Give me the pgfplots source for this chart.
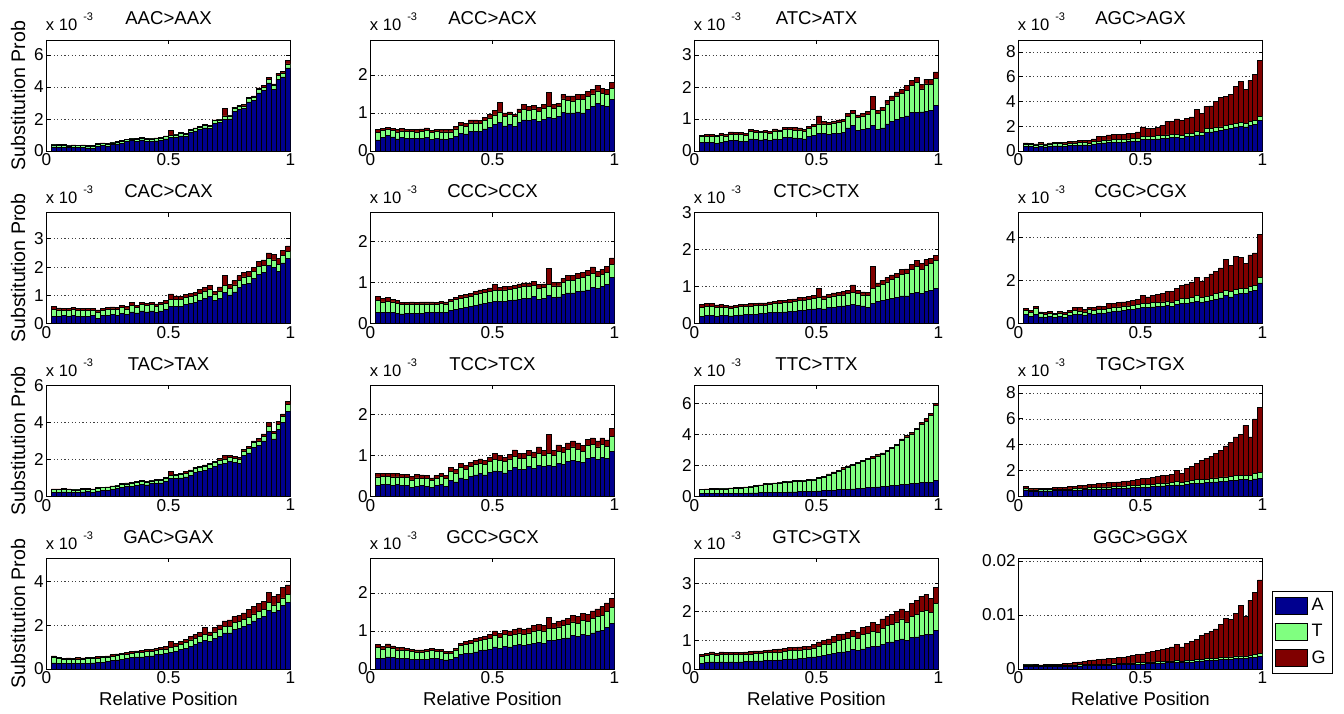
\documentclass[border=0pt]{standalone}
\usepackage{fontspec}
\setmainfont{Liberation Sans}
\usepackage{pgfplots}
\usepackage{pgfplotstable}
\pgfplotsset{compat=1.18}

\definecolor{cA}{RGB}{0,0,143}
\definecolor{cT}{RGB}{128,255,128}
\definecolor{cG}{RGB}{128,0,0}

% substitution probabilities (x 10^-3), columns A T G, 49 position bins
\pgfplotstableread[row sep=\\]{
A T G\\
0.26 0.12 0.04\\ 0.24 0.12 0.04\\ 0.24 0.12 0.04\\ 0.20 0.12 0.04\\ 0.22 0.12 0.04\\ 0.21 0.12 0.04\\ 0.22 0.12 0.04\\
0.19 0.12 0.04\\ 0.17 0.12 0.04\\ 0.29 0.12 0.04\\ 0.34 0.12 0.04\\ 0.29 0.12 0.04\\ 0.39 0.12 0.04\\ 0.44 0.12 0.04\\
0.49 0.12 0.04\\ 0.59 0.12 0.04\\ 0.64 0.12 0.04\\ 0.62 0.12 0.04\\ 0.69 0.12 0.04\\ 0.62 0.12 0.04\\ 0.61 0.15 0.04\\
0.63 0.15 0.04\\ 0.66 0.15 0.04\\ 0.76 0.15 0.04\\ 0.85 0.15 0.30\\ 0.86 0.15 0.04\\ 0.95 0.15 0.05\\ 0.90 0.15 0.05\\
1.15 0.15 0.05\\ 1.25 0.15 0.05\\ 1.35 0.15 0.05\\ 1.45 0.15 0.05\\ 1.40 0.15 0.05\\ 1.74 0.15 0.06\\ 1.79 0.15 0.06\\
2.00 0.20 0.45\\ 2.01 0.18 0.06\\ 2.50 0.18 0.07\\ 2.59 0.18 0.08\\ 2.64 0.18 0.08\\ 3.07 0.20 0.08\\ 3.15 0.20 0.10\\
3.63 0.22 0.10\\ 3.78 0.22 0.10\\ 4.26 0.22 0.12\\ 3.86 0.22 0.12\\ 4.48 0.25 0.12\\ 4.63 0.25 0.12\\ 5.20 0.25 0.20\\
}\tAAC
\pgfplotstableread[row sep=\\]{
A T G\\
0.29 0.19 0.09\\ 0.36 0.18 0.06\\ 0.40 0.17 0.06\\ 0.37 0.17 0.06\\ 0.32 0.18 0.06\\ 0.35 0.18 0.06\\ 0.33 0.18 0.06\\
0.34 0.17 0.06\\ 0.33 0.17 0.06\\ 0.34 0.18 0.06\\ 0.36 0.18 0.07\\ 0.30 0.18 0.06\\ 0.33 0.18 0.06\\ 0.32 0.18 0.06\\
0.31 0.19 0.06\\ 0.33 0.17 0.06\\ 0.38 0.20 0.07\\ 0.47 0.20 0.08\\ 0.45 0.20 0.07\\ 0.52 0.22 0.08\\ 0.52 0.22 0.08\\
0.51 0.22 0.08\\ 0.58 0.22 0.08\\ 0.62 0.25 0.10\\ 0.70 0.25 0.12\\ 0.75 0.28 0.25\\ 0.66 0.26 0.08\\ 0.70 0.26 0.07\\
0.65 0.25 0.07\\ 0.75 0.27 0.09\\ 0.82 0.28 0.12\\ 0.80 0.27 0.10\\ 0.83 0.28 0.10\\ 0.78 0.27 0.10\\ 0.84 0.28 0.10\\
0.88 0.30 0.37\\ 0.85 0.27 0.10\\ 0.90 0.28 0.08\\ 1.02 0.35 0.12\\ 1.00 0.33 0.12\\ 1.00 0.32 0.13\\ 1.03 0.33 0.13\\
1.00 0.35 0.13\\ 1.10 0.33 0.14\\ 1.18 0.32 0.12\\ 1.25 0.33 0.15\\ 1.20 0.32 0.13\\ 1.18 0.30 0.14\\ 1.35 0.30 0.15\\
}\tACC
\pgfplotstableread[row sep=\\]{
A T G\\
0.28 0.17 0.05\\ 0.28 0.18 0.06\\ 0.27 0.19 0.06\\ 0.25 0.20 0.05\\ 0.28 0.20 0.06\\ 0.29 0.18 0.05\\ 0.32 0.20 0.08\\
0.32 0.21 0.06\\ 0.30 0.21 0.06\\ 0.30 0.20 0.05\\ 0.38 0.24 0.06\\ 0.36 0.22 0.06\\ 0.35 0.22 0.05\\ 0.37 0.22 0.06\\
0.33 0.22 0.06\\ 0.38 0.25 0.06\\ 0.36 0.25 0.05\\ 0.42 0.25 0.06\\ 0.42 0.26 0.07\\ 0.41 0.25 0.07\\ 0.40 0.26 0.06\\
0.38 0.25 0.05\\ 0.45 0.25 0.06\\ 0.48 0.28 0.08\\ 0.55 0.30 0.25\\ 0.55 0.30 0.08\\ 0.52 0.32 0.06\\ 0.55 0.33 0.06\\
0.55 0.34 0.08\\ 0.58 0.35 0.07\\ 0.72 0.35 0.10\\ 0.80 0.38 0.10\\ 0.65 0.40 0.08\\ 0.68 0.42 0.08\\ 0.70 0.45 0.09\\
0.80 0.50 0.40\\ 0.68 0.50 0.08\\ 0.72 0.55 0.10\\ 0.85 0.62 0.12\\ 0.92 0.68 0.12\\ 1.00 0.72 0.13\\ 1.05 0.75 0.12\\
1.10 0.80 0.14\\ 1.20 0.85 0.15\\ 1.20 0.95 0.16\\ 1.22 0.72 0.14\\ 1.25 0.85 0.15\\ 1.28 0.80 0.15\\ 1.42 0.85 0.20\\
}\tATC
\pgfplotstableread[row sep=\\]{
A T G\\
0.35 0.20 0.10\\ 0.35 0.18 0.08\\ 0.32 0.18 0.08\\ 0.38 0.20 0.10\\ 0.33 0.16 0.08\\ 0.40 0.18 0.08\\ 0.42 0.18 0.10\\
0.42 0.18 0.12\\ 0.40 0.18 0.12\\ 0.45 0.18 0.12\\ 0.47 0.18 0.13\\ 0.48 0.20 0.15\\ 0.50 0.20 0.18\\ 0.48 0.18 0.22\\
0.55 0.20 0.22\\ 0.60 0.20 0.35\\ 0.65 0.20 0.35\\ 0.68 0.22 0.40\\ 0.70 0.22 0.40\\ 0.72 0.22 0.40\\ 0.72 0.22 0.40\\
0.75 0.22 0.43\\ 0.80 0.22 0.43\\ 0.80 0.25 0.50\\ 0.92 0.25 0.78\\ 0.95 0.25 0.60\\ 0.95 0.25 0.62\\ 0.98 0.25 0.67\\
1.00 0.25 0.80\\ 1.05 0.25 1.10\\ 1.10 0.25 1.05\\ 1.12 0.25 1.23\\ 1.05 0.22 1.18\\ 1.15 0.25 1.25\\ 1.20 0.25 1.30\\
1.30 0.30 1.75\\ 1.25 0.25 1.55\\ 1.50 0.30 1.80\\ 1.55 0.30 1.80\\ 1.60 0.30 2.10\\ 1.65 0.30 2.35\\ 1.75 0.30 2.35\\
1.85 0.30 2.45\\ 1.95 0.30 2.95\\ 2.00 0.30 3.35\\ 1.95 0.30 2.75\\ 2.10 0.32 3.28\\ 2.15 0.32 3.73\\ 2.45 0.35 4.50\\
}\tAGC
\pgfplotstableread[row sep=\\]{
A T G\\
0.25 0.25 0.10\\ 0.27 0.22 0.07\\ 0.28 0.20 0.07\\ 0.26 0.21 0.07\\ 0.30 0.20 0.08\\ 0.27 0.20 0.08\\ 0.25 0.21 0.07\\
0.26 0.20 0.07\\ 0.28 0.18 0.07\\ 0.20 0.22 0.07\\ 0.28 0.20 0.07\\ 0.30 0.20 0.07\\ 0.32 0.20 0.07\\ 0.30 0.20 0.07\\
0.35 0.22 0.08\\ 0.32 0.20 0.08\\ 0.42 0.24 0.09\\ 0.38 0.20 0.08\\ 0.45 0.22 0.09\\ 0.42 0.22 0.08\\ 0.45 0.22 0.08\\
0.40 0.22 0.08\\ 0.45 0.22 0.08\\ 0.50 0.22 0.09\\ 0.62 0.23 0.20\\ 0.62 0.25 0.11\\ 0.60 0.25 0.10\\ 0.68 0.25 0.10\\
0.72 0.25 0.11\\ 0.75 0.25 0.10\\ 0.82 0.26 0.12\\ 0.90 0.26 0.12\\ 0.95 0.25 0.15\\ 0.82 0.23 0.10\\ 0.90 0.26 0.14\\
1.10 0.25 0.35\\ 1.02 0.24 0.14\\ 1.12 0.25 0.15\\ 1.28 0.25 0.17\\ 1.40 0.25 0.17\\ 1.42 0.25 0.18\\ 1.60 0.24 0.16\\
1.75 0.26 0.19\\ 1.80 0.26 0.19\\ 2.05 0.25 0.20\\ 2.00 0.25 0.20\\ 1.85 0.25 0.20\\ 2.15 0.25 0.20\\ 2.30 0.25 0.20\\
}\tCAC
\pgfplotstableread[row sep=\\]{
A T G\\
0.27 0.30 0.10\\ 0.28 0.25 0.08\\ 0.27 0.28 0.08\\ 0.28 0.25 0.07\\ 0.26 0.24 0.06\\ 0.24 0.22 0.05\\ 0.25 0.22 0.05\\
0.26 0.22 0.05\\ 0.25 0.22 0.05\\ 0.26 0.22 0.05\\ 0.27 0.21 0.05\\ 0.28 0.20 0.05\\ 0.27 0.20 0.05\\ 0.28 0.21 0.05\\
0.28 0.20 0.05\\ 0.32 0.22 0.05\\ 0.35 0.24 0.05\\ 0.38 0.24 0.06\\ 0.40 0.25 0.06\\ 0.42 0.25 0.06\\ 0.45 0.26 0.07\\
0.48 0.27 0.07\\ 0.50 0.27 0.07\\ 0.52 0.27 0.08\\ 0.55 0.26 0.15\\ 0.55 0.26 0.08\\ 0.55 0.27 0.08\\ 0.56 0.27 0.08\\
0.58 0.27 0.09\\ 0.60 0.28 0.09\\ 0.62 0.28 0.09\\ 0.62 0.28 0.09\\ 0.66 0.28 0.09\\ 0.60 0.27 0.09\\ 0.62 0.26 0.09\\
0.68 0.27 0.40\\ 0.64 0.28 0.08\\ 0.65 0.27 0.08\\ 0.72 0.28 0.10\\ 0.75 0.30 0.12\\ 0.75 0.30 0.12\\ 0.78 0.32 0.12\\
0.80 0.33 0.12\\ 0.82 0.35 0.13\\ 0.88 0.35 0.15\\ 0.85 0.30 0.13\\ 0.90 0.30 0.13\\ 0.95 0.30 0.15\\ 1.12 0.32 0.16\\
}\tCCC
\pgfplotstableread[row sep=\\]{
A T G\\
0.20 0.25 0.08\\ 0.22 0.24 0.08\\ 0.22 0.25 0.08\\ 0.20 0.24 0.07\\ 0.22 0.23 0.07\\ 0.22 0.22 0.06\\ 0.21 0.21 0.06\\
0.22 0.21 0.06\\ 0.24 0.22 0.06\\ 0.25 0.22 0.06\\ 0.26 0.22 0.06\\ 0.26 0.23 0.06\\ 0.27 0.23 0.06\\ 0.28 0.22 0.06\\
0.30 0.23 0.06\\ 0.30 0.24 0.07\\ 0.31 0.24 0.07\\ 0.32 0.25 0.07\\ 0.33 0.25 0.07\\ 0.34 0.26 0.07\\ 0.36 0.27 0.07\\
0.37 0.27 0.07\\ 0.38 0.28 0.08\\ 0.40 0.28 0.08\\ 0.42 0.28 0.25\\ 0.40 0.27 0.08\\ 0.44 0.28 0.08\\ 0.45 0.30 0.08\\
0.46 0.30 0.08\\ 0.48 0.30 0.09\\ 0.50 0.32 0.09\\ 0.52 0.33 0.20\\ 0.50 0.32 0.09\\ 0.48 0.30 0.08\\ 0.45 0.32 0.08\\
0.55 0.40 0.60\\ 0.60 0.40 0.10\\ 0.62 0.45 0.10\\ 0.65 0.48 0.12\\ 0.68 0.52 0.12\\ 0.70 0.55 0.12\\ 0.75 0.58 0.13\\
0.75 0.60 0.13\\ 0.82 0.65 0.14\\ 0.85 0.70 0.15\\ 0.82 0.65 0.15\\ 0.88 0.70 0.15\\ 0.90 0.72 0.15\\ 0.95 0.75 0.15\\
}\tCTC
\pgfplotstableread[row sep=\\]{
A T G\\
0.42 0.20 0.10\\ 0.35 0.18 0.08\\ 0.45 0.25 0.10\\ 0.32 0.15 0.08\\ 0.30 0.15 0.08\\ 0.33 0.15 0.08\\ 0.28 0.14 0.07\\
0.35 0.15 0.08\\ 0.30 0.15 0.07\\ 0.38 0.15 0.10\\ 0.45 0.18 0.12\\ 0.42 0.18 0.15\\ 0.40 0.15 0.12\\ 0.48 0.17 0.12\\
0.45 0.17 0.15\\ 0.50 0.18 0.15\\ 0.48 0.17 0.17\\ 0.55 0.18 0.20\\ 0.58 0.18 0.18\\ 0.60 0.18 0.20\\ 0.62 0.18 0.22\\
0.65 0.18 0.22\\ 0.66 0.18 0.25\\ 0.70 0.20 0.25\\ 0.75 0.20 0.35\\ 0.75 0.20 0.30\\ 0.78 0.20 0.32\\ 0.80 0.20 0.35\\
0.82 0.20 0.40\\ 0.85 0.20 0.45\\ 0.82 0.20 0.50\\ 0.90 0.20 0.55\\ 0.95 0.22 0.60\\ 0.95 0.22 0.68\\ 1.00 0.22 0.70\\
1.05 0.25 0.85\\ 1.00 0.22 0.75\\ 1.05 0.22 0.90\\ 1.10 0.22 1.00\\ 1.15 0.25 1.05\\ 1.20 0.25 1.15\\ 1.30 0.25 1.45\\
1.25 0.25 1.20\\ 1.35 0.25 1.55\\ 1.40 0.25 1.45\\ 1.40 0.25 1.15\\ 1.50 0.25 1.45\\ 1.55 0.25 1.50\\ 1.90 0.25 2.00\\
}\tCGC
\pgfplotstableread[row sep=\\]{
A T G\\
0.22 0.14 0.04\\ 0.23 0.13 0.04\\ 0.24 0.13 0.04\\ 0.23 0.13 0.04\\ 0.22 0.13 0.04\\ 0.22 0.13 0.04\\ 0.24 0.13 0.04\\
0.25 0.13 0.04\\ 0.23 0.13 0.04\\ 0.28 0.14 0.04\\ 0.32 0.14 0.04\\ 0.33 0.14 0.04\\ 0.38 0.14 0.04\\ 0.42 0.14 0.04\\
0.48 0.15 0.05\\ 0.52 0.15 0.05\\ 0.55 0.15 0.05\\ 0.60 0.15 0.05\\ 0.65 0.15 0.05\\ 0.62 0.15 0.05\\ 0.68 0.15 0.05\\
0.70 0.15 0.05\\ 0.72 0.16 0.05\\ 0.80 0.16 0.06\\ 0.95 0.18 0.20\\ 0.95 0.18 0.07\\ 1.00 0.18 0.07\\ 1.05 0.20 0.08\\
1.15 0.20 0.08\\ 1.30 0.20 0.08\\ 1.35 0.20 0.08\\ 1.42 0.20 0.08\\ 1.50 0.22 0.08\\ 1.60 0.22 0.08\\ 1.75 0.22 0.08\\
1.80 0.22 0.20\\ 1.90 0.22 0.10\\ 1.85 0.22 0.10\\ 1.80 0.22 0.10\\ 2.20 0.25 0.10\\ 2.35 0.25 0.10\\ 2.65 0.25 0.10\\
2.75 0.25 0.12\\ 3.00 0.25 0.12\\ 3.50 0.30 0.20\\ 3.10 0.28 0.12\\ 3.60 0.30 0.15\\ 4.00 0.30 0.15\\ 4.60 0.35 0.20\\
}\tTAC
\pgfplotstableread[row sep=\\]{
A T G\\
0.27 0.20 0.08\\ 0.28 0.20 0.08\\ 0.28 0.20 0.08\\ 0.27 0.20 0.08\\ 0.28 0.19 0.08\\ 0.27 0.19 0.08\\ 0.27 0.19 0.08\\
0.22 0.18 0.08\\ 0.25 0.20 0.08\\ 0.26 0.18 0.08\\ 0.25 0.18 0.07\\ 0.22 0.16 0.07\\ 0.26 0.18 0.07\\ 0.28 0.20 0.07\\
0.25 0.18 0.07\\ 0.38 0.22 0.10\\ 0.35 0.22 0.08\\ 0.45 0.25 0.10\\ 0.42 0.23 0.10\\ 0.48 0.25 0.10\\ 0.52 0.26 0.10\\
0.55 0.26 0.10\\ 0.52 0.26 0.10\\ 0.58 0.27 0.10\\ 0.62 0.28 0.15\\ 0.60 0.28 0.12\\ 0.57 0.28 0.10\\ 0.63 0.28 0.10\\
0.70 0.28 0.15\\ 0.65 0.27 0.12\\ 0.65 0.28 0.12\\ 0.72 0.28 0.12\\ 0.68 0.28 0.12\\ 0.75 0.30 0.15\\ 0.72 0.28 0.12\\
0.75 0.30 0.45\\ 0.72 0.28 0.12\\ 0.80 0.30 0.15\\ 0.78 0.28 0.12\\ 0.85 0.30 0.15\\ 0.88 0.32 0.15\\ 0.85 0.30 0.15\\
0.82 0.28 0.13\\ 0.92 0.32 0.15\\ 0.95 0.32 0.15\\ 0.90 0.30 0.15\\ 0.95 0.32 0.15\\ 0.92 0.30 0.15\\ 1.10 0.35 0.20\\
}\tTCC
\pgfplotstableread[row sep=\\]{
A T G\\
0.18 0.24 0.03\\ 0.18 0.26 0.04\\ 0.19 0.27 0.04\\ 0.19 0.27 0.04\\ 0.20 0.28 0.04\\ 0.20 0.28 0.04\\ 0.20 0.30 0.04\\
0.20 0.31 0.04\\ 0.21 0.32 0.04\\ 0.21 0.35 0.04\\ 0.22 0.38 0.04\\ 0.22 0.43 0.05\\ 0.23 0.45 0.05\\ 0.24 0.52 0.05\\
0.25 0.55 0.05\\ 0.26 0.56 0.05\\ 0.26 0.60 0.05\\ 0.27 0.63 0.05\\ 0.28 0.65 0.05\\ 0.29 0.66 0.05\\ 0.30 0.67 0.05\\
0.31 0.68 0.05\\ 0.32 0.70 0.05\\ 0.34 0.72 0.05\\ 0.35 0.80 0.08\\ 0.36 0.88 0.06\\ 0.38 1.00 0.07\\ 0.40 1.10 0.07\\
0.42 1.20 0.07\\ 0.44 1.33 0.08\\ 0.46 1.42 0.08\\ 0.48 1.50 0.08\\ 0.50 1.60 0.08\\ 0.53 1.70 0.08\\ 0.55 1.82 0.08\\
0.57 1.90 0.10\\ 0.60 2.00 0.08\\ 0.62 2.10 0.08\\ 0.65 2.25 0.08\\ 0.68 2.40 0.08\\ 0.72 2.55 0.08\\ 0.75 2.85 0.10\\
0.78 3.05 0.10\\ 0.82 3.20 0.10\\ 0.85 3.45 0.10\\ 0.88 3.75 0.12\\ 0.90 3.95 0.15\\ 0.92 4.30 0.15\\ 1.00 4.85 0.15\\
}\tTTC
\pgfplotstableread[row sep=\\]{
A T G\\
0.50 0.10 0.15\\ 0.40 0.10 0.10\\ 0.40 0.10 0.10\\ 0.42 0.10 0.10\\ 0.42 0.10 0.12\\ 0.42 0.10 0.12\\ 0.43 0.10 0.13\\
0.44 0.10 0.14\\ 0.45 0.10 0.15\\ 0.46 0.12 0.17\\ 0.48 0.12 0.18\\ 0.50 0.12 0.20\\ 0.52 0.13 0.22\\ 0.53 0.13 0.24\\
0.55 0.14 0.25\\ 0.56 0.15 0.27\\ 0.58 0.15 0.30\\ 0.58 0.15 0.32\\ 0.60 0.16 0.32\\ 0.62 0.16 0.34\\ 0.63 0.17 0.35\\
0.65 0.17 0.38\\ 0.66 0.18 0.40\\ 0.68 0.18 0.42\\ 0.72 0.20 0.48\\ 0.72 0.20 0.45\\ 0.75 0.20 0.50\\ 0.78 0.20 0.55\\
0.80 0.20 0.60\\ 0.82 0.22 0.60\\ 0.85 0.22 0.65\\ 0.88 0.25 0.85\\ 0.85 0.22 0.73\\ 0.95 0.25 0.95\\ 0.98 0.25 1.07\\
1.00 0.28 1.30\\ 1.02 0.28 1.50\\ 1.05 0.28 1.60\\ 1.10 0.30 1.70\\ 1.12 0.30 1.90\\ 1.15 0.30 2.10\\ 1.18 0.32 2.40\\
1.22 0.32 2.65\\ 1.25 0.35 3.00\\ 1.28 0.35 3.17\\ 1.30 0.35 3.85\\ 1.25 0.35 3.00\\ 1.35 0.40 4.25\\ 1.40 0.45 5.05\\
}\tTGC
\pgfplotstableread[row sep=\\]{
A T G\\
0.28 0.25 0.07\\ 0.25 0.22 0.06\\ 0.24 0.20 0.06\\ 0.25 0.20 0.06\\ 0.24 0.20 0.06\\ 0.26 0.20 0.06\\ 0.25 0.20 0.06\\
0.27 0.20 0.06\\ 0.28 0.20 0.06\\ 0.30 0.20 0.06\\ 0.32 0.20 0.06\\ 0.34 0.20 0.06\\ 0.38 0.20 0.07\\ 0.42 0.20 0.07\\
0.45 0.20 0.07\\ 0.48 0.20 0.08\\ 0.52 0.20 0.08\\ 0.55 0.20 0.08\\ 0.55 0.22 0.08\\ 0.58 0.22 0.08\\ 0.60 0.22 0.08\\
0.65 0.22 0.08\\ 0.68 0.22 0.08\\ 0.70 0.22 0.10\\ 0.75 0.25 0.25\\ 0.80 0.25 0.12\\ 0.88 0.25 0.15\\ 0.95 0.25 0.15\\
1.05 0.28 0.15\\ 1.12 0.28 0.18\\ 1.20 0.28 0.18\\ 1.30 0.30 0.30\\ 1.25 0.28 0.17\\ 1.40 0.30 0.20\\ 1.50 0.30 0.22\\
1.65 0.30 0.25\\ 1.65 0.30 0.30\\ 1.80 0.32 0.28\\ 1.85 0.32 0.30\\ 1.95 0.32 0.30\\ 2.05 0.32 0.35\\ 2.20 0.32 0.35\\
2.30 0.32 0.38\\ 2.40 0.32 0.38\\ 2.70 0.35 0.45\\ 2.60 0.33 0.40\\ 2.70 0.33 0.40\\ 2.90 0.35 0.50\\ 3.05 0.35 0.45\\
}\tGAC
\pgfplotstableread[row sep=\\]{
A T G\\
0.28 0.28 0.08\\ 0.28 0.25 0.07\\ 0.32 0.26 0.08\\ 0.30 0.24 0.07\\ 0.28 0.22 0.06\\ 0.28 0.22 0.06\\ 0.27 0.22 0.06\\
0.26 0.20 0.06\\ 0.25 0.20 0.05\\ 0.25 0.20 0.05\\ 0.26 0.20 0.05\\ 0.28 0.21 0.06\\ 0.27 0.20 0.05\\ 0.26 0.20 0.05\\
0.24 0.18 0.05\\ 0.25 0.17 0.04\\ 0.30 0.20 0.05\\ 0.38 0.24 0.06\\ 0.40 0.25 0.07\\ 0.42 0.26 0.07\\ 0.45 0.27 0.08\\
0.48 0.27 0.08\\ 0.50 0.28 0.08\\ 0.52 0.28 0.10\\ 0.58 0.30 0.12\\ 0.55 0.28 0.10\\ 0.60 0.30 0.12\\ 0.58 0.30 0.12\\
0.62 0.30 0.12\\ 0.65 0.30 0.13\\ 0.62 0.30 0.12\\ 0.65 0.30 0.13\\ 0.68 0.32 0.15\\ 0.70 0.32 0.15\\ 0.68 0.32 0.15\\
0.75 0.32 0.28\\ 0.75 0.32 0.13\\ 0.78 0.33 0.14\\ 0.80 0.34 0.15\\ 0.82 0.35 0.16\\ 0.88 0.36 0.18\\ 0.85 0.35 0.18\\
0.90 0.38 0.18\\ 0.88 0.37 0.18\\ 0.95 0.38 0.20\\ 1.00 0.38 0.20\\ 1.02 0.40 0.22\\ 1.10 0.42 0.22\\ 1.20 0.42 0.23\\
}\tGCC
\pgfplotstableread[row sep=\\]{
A T G\\
0.20 0.25 0.05\\ 0.22 0.26 0.07\\ 0.25 0.28 0.07\\ 0.22 0.26 0.07\\ 0.25 0.27 0.08\\ 0.24 0.26 0.08\\ 0.25 0.26 0.08\\
0.24 0.26 0.08\\ 0.25 0.25 0.08\\ 0.26 0.26 0.08\\ 0.27 0.26 0.08\\ 0.28 0.27 0.08\\ 0.28 0.27 0.08\\ 0.30 0.27 0.08\\
0.30 0.28 0.09\\ 0.31 0.28 0.09\\ 0.32 0.28 0.10\\ 0.33 0.29 0.10\\ 0.35 0.30 0.10\\ 0.35 0.30 0.10\\ 0.37 0.30 0.10\\
0.38 0.30 0.10\\ 0.40 0.30 0.10\\ 0.42 0.32 0.12\\ 0.45 0.35 0.15\\ 0.48 0.37 0.15\\ 0.50 0.38 0.17\\ 0.55 0.40 0.20\\
0.58 0.42 0.20\\ 0.60 0.43 0.20\\ 0.62 0.45 0.20\\ 0.68 0.45 0.22\\ 0.65 0.43 0.22\\ 0.70 0.50 0.25\\ 0.75 0.50 0.25\\
0.80 0.52 0.30\\ 0.78 0.50 0.27\\ 0.85 0.58 0.32\\ 0.92 0.60 0.33\\ 0.95 0.62 0.33\\ 1.00 0.65 0.35\\ 1.05 0.70 0.35\\
1.00 0.65 0.35\\ 1.10 0.75 0.45\\ 1.12 0.78 0.50\\ 1.18 0.82 0.55\\ 1.20 0.85 0.55\\ 1.22 0.75 0.50\\ 1.35 0.95 0.55\\
}\tGTC
\pgfplotstableread[row sep=\\]{
A T G\\
0.45 0.30 0.05\\ 0.45 0.30 0.08\\ 0.45 0.25 0.10\\ 0.45 0.20 0.12\\ 0.45 0.20 0.15\\ 0.48 0.20 0.15\\ 0.48 0.20 0.17\\
0.50 0.20 0.20\\ 0.52 0.20 0.25\\ 0.55 0.20 0.35\\ 0.55 0.20 0.45\\ 0.58 0.22 0.50\\ 0.60 0.22 0.60\\ 0.62 0.22 0.70\\
0.65 0.22 0.80\\ 0.68 0.22 0.90\\ 0.70 0.22 0.95\\ 0.72 0.22 1.00\\ 0.75 0.22 1.05\\ 0.78 0.22 1.10\\ 0.80 0.22 1.20\\
0.85 0.25 1.30\\ 0.88 0.25 1.40\\ 0.90 0.25 1.50\\ 0.95 0.25 1.60\\ 1.00 0.25 1.80\\ 1.05 0.25 2.00\\ 1.10 0.28 2.10\\
1.12 0.28 2.30\\ 1.15 0.28 2.40\\ 1.20 0.30 2.60\\ 1.25 0.30 2.95\\ 1.20 0.28 2.60\\ 1.30 0.30 3.10\\ 1.25 0.30 3.50\\
1.40 0.35 3.80\\ 1.50 0.35 4.30\\ 1.55 0.35 4.70\\ 1.60 0.35 5.00\\ 1.65 0.38 5.40\\ 1.75 0.38 6.20\\ 1.80 0.40 7.20\\
1.85 0.40 6.95\\ 1.90 0.40 8.00\\ 2.00 0.42 9.40\\ 1.95 0.42 7.40\\ 2.10 0.45 10.20\\ 2.20 0.45 11.60\\ 2.35 0.50 13.65\\
}\tGGC

\pgfplotsset{
  panel/.style={
    scale only axis, width=122pt, height=55.5pt,
    xmin=0, xmax=1, ymin=0,
    clip mode=individual,
    ybar stacked, bar width=0.02,
    xtick={0,0.5,1}, xticklabels={0,0.5,1},
    tick align=inside, major tick length=2pt,
    ymajorgrids,
    grid style={black!75, line width=0.35pt, dash pattern=on 0.6pt off 1.2pt},
    axis line style={line width=0.4pt},
    tick style={black, line width=0.4pt},
    tick label style={font=\fontsize{8.6}{9.5}\selectfont, inner sep=1.2pt},
    /pgf/number format/assume math mode=true,
    every axis title/.style={font=\fontsize{9.3}{10}\selectfont, at={(0.5,1)}, anchor=base, yshift=7.5pt},
    legend image code/.code={\draw[##1] (0pt,-4pt) rectangle (16pt,4.5pt);},
  },
  barA/.style={fill=cA, draw=black, line width=0.3pt},
  barT/.style={fill=cT, draw=black, line width=0.3pt},
  barG/.style={fill=cG, draw=black, line width=0.3pt},
  ggclegend/.style={
    legend style={at={(1.037,0.705)}, anchor=north west, draw=black,
      line width=0.4pt, font=\fontsize{9}{10}\selectfont,
      inner xsep=1.5pt, inner ysep=1.5pt, row sep=1.5pt, cells={anchor=west}},
  },
}

\newcommand{\expo}{\node[anchor=base west, inner sep=0pt, xshift=-0.5pt, yshift=4.5pt, font=\fontsize{8.3}{9}\selectfont] at (rel axis cs:0,1) {x 10\hspace{3pt}\raisebox{5pt}{\fontsize{5.5}{6}\selectfont -3}};}
\newcommand{\ylab}{\path (rel axis cs:0,0.5) ++(-14.25pt,0pt) node[rotate=90, font=\fontsize{9.8}{10}\selectfont] {Substitution Prob};}
\newcommand{\xlab}{\node[anchor=base, yshift=-18pt, font=\fontsize{9.3}{10}\selectfont] at (rel axis cs:0.5,0) {Relative Position};}

% #1 position, #2 title, #3 table, #4 ymax, #5 y ticks, #6 extra options, #7 extra drawing
\newcommand{\panel}[7]{%
  \begin{axis}[panel, at={#1}, anchor=south west, title={#2}, ymax=#4, ytick={#5}, #6]
    \addplot[barA] table[x expr=0.03+0.02*\coordindex, y=A] {#3};
    \addplot[barT] table[x expr=0.03+0.02*\coordindex, y=T] {#3};
    \addplot[barG] table[x expr=0.03+0.02*\coordindex, y=G] {#3};
    #7
  \end{axis}}

\begin{document}
\begin{tikzpicture}
\useasboundingbox (0,0) rectangle (672pt,356.5pt);
% row 1
\panel{(23.25pt,281pt)}{AAC>AAX}{\tAAC}{6.94}{0,2,4,6}{}{\expo\ylab}
\panel{(185.25pt,281pt)}{ACC>ACX}{\tACC}{2.92}{0,1,2}{}{\expo}
\panel{(347.25pt,281pt)}{ATC>ATX}{\tATC}{3.47}{0,1,2,3}{}{\expo}
\panel{(509.25pt,281pt)}{AGC>AGX}{\tAGC}{8.97}{0,2,4,6,8}{}{\expo}
% row 2
\panel{(23.25pt,194.65pt)}{CAC>CAX}{\tCAC}{3.92}{0,1,2,3}{}{\expo\ylab}
\panel{(185.25pt,194.65pt)}{CCC>CCX}{\tCCC}{2.70}{0,1,2}{}{\expo}
\panel{(347.25pt,194.65pt)}{CTC>CTX}{\tCTC}{3.0}{0,1,2,3}{}{\expo}
\panel{(509.25pt,194.65pt)}{CGC>CGX}{\tCGC}{5.17}{0,2,4}{}{\expo}
% row 3
\panel{(23.25pt,108.35pt)}{TAC>TAX}{\tTAC}{6.0}{0,2,4,6}{}{\expo\ylab}
\panel{(185.25pt,108.35pt)}{TCC>TCX}{\tTCC}{2.70}{0,1,2}{}{\expo}
\panel{(347.25pt,108.35pt)}{TTC>TTX}{\tTTC}{7.16}{0,2,4,6}{}{\expo}
\panel{(509.25pt,108.35pt)}{TGC>TGX}{\tTGC}{8.6}{0,2,4,6,8}{}{\expo}
% row 4
\panel{(23.25pt,22pt)}{GAC>GAX}{\tGAC}{5.08}{0,2,4}{}{\expo\ylab\xlab}
\panel{(185.25pt,22pt)}{GCC>GCX}{\tGCC}{2.92}{0,1,2}{}{\expo\xlab}
\panel{(347.25pt,22pt)}{GTC>GTX}{\tGTC}{3.88}{0,1,2,3}{}{\expo\xlab}
\panel{(509.25pt,22pt)}{GGC>GGX}{\tGGC}{20.55}{0,10,20}{yticklabels={0,0.01,0.02}, ggclegend}{\xlab\legend{A,T,G}}
\end{tikzpicture}
\end{document}
